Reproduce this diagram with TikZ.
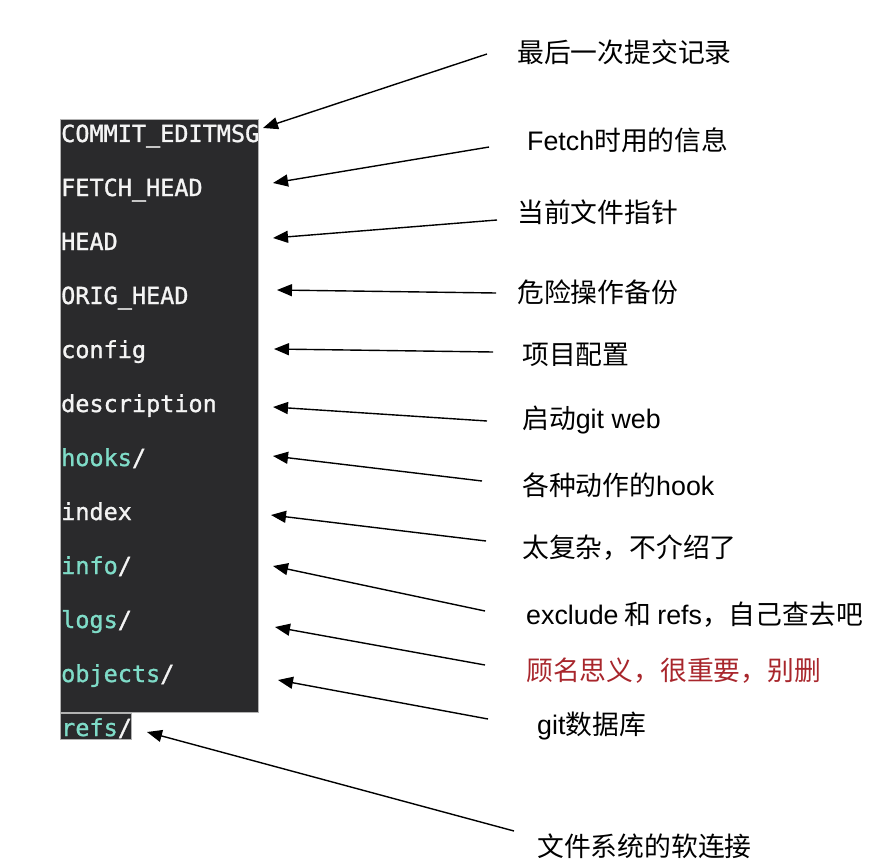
\documentclass[tikz,border=0pt]{standalone}
\usepackage{fontspec}
\usetikzlibrary{arrows.meta}
\newfontfamily\cjk{Noto Sans CJK SC}
\newfontfamily\latn{Liberation Sans}
\newfontfamily\monofont[FakeBold=1.2]{DejaVu Sans Mono}
\newcommand\lt[1]{{\latn #1}}
\definecolor{termbg}{HTML}{2A2A2C}
\definecolor{dirteal}{HTML}{7FDCC8}
\definecolor{fgwhite}{HTML}{F4F4F4}
\definecolor{warnred}{HTML}{A8262C}
\begin{document}
\begin{tikzpicture}[
    x=1pt, y=-1pt,
    fname/.style={anchor=base west, inner sep=0pt, text=fgwhite,
                  font=\monofont\fontsize{23.5}{28}\selectfont},
    note/.style={anchor=west, inner sep=0pt, text=black,
                 font=\cjk\fontsize{26.8}{30}\selectfont},
    ptr/.style={line width=1.4pt, black,
                -{Triangle[length=15pt, width=12pt]}}
]
    \useasboundingbox (0,0) rectangle (888,864);

    % terminal listing
    \fill[termbg, draw=black!30, line width=0.6pt] (60,119) rectangle (258,712);
    \fill[termbg, draw=black!30, line width=0.6pt] (60,713) rectangle (131,739);

    \node[fname] (commit) at (61,142) {COMMIT\_EDITMSG};
    \node[fname] (fetch)  at (61,196) {FETCH\_HEAD};
    \node[fname] (head)   at (61,250) {HEAD};
    \node[fname] (orig)   at (61,304) {ORIG\_HEAD};
    \node[fname] (config) at (61,358) {config};
    \node[fname] (desc)   at (61,412) {description};
    \node[fname] (hooks)  at (61,466) {\textcolor{dirteal}{hooks}/};
    \node[fname] (index)  at (61,520) {index};
    \node[fname] (info)   at (61,574) {\textcolor{dirteal}{info}/};
    \node[fname] (logs)   at (61,628) {\textcolor{dirteal}{logs}/};
    \node[fname] (objs)   at (61,682) {\textcolor{dirteal}{objects}/};
    \node[fname] (refs)   at (61,736) {\textcolor{dirteal}{refs}/};

    % explanations
    \node[note] (ncommit) at (517,52)  {最后一次提交记录};
    \node[note] (nfetch)  at (527,140) {\lt{Fetch}时用的信息};
    \node[note] (nhead)   at (517,212) {当前文件指针};
    \node[note] (norig)   at (517,292) {危险操作备份};
    \node[note] (nconfig) at (522,355) {项目配置};
    \node[note] (ndesc)   at (522,420) {启动\lt{git web}};
    \node[note] (nhooks)  at (522,485) {各种动作的\lt{hook}};
    \node[note] (nindex)  at (522,548) {太复杂，不介绍了};
    \node[note] (ninfo)   at (526,615) {\lt{exclude} 和 \lt{refs}，自己查去吧};
    \node[note, text=warnred] (nlogs) at (526,671) {顾名思义，很重要，别删};
    \node[note] (nobjs)   at (537,726) {\lt{git}数据库};
    \node[note] (nrefs)   at (537,846) {文件系统的软连接};

    % arrow tails and tips
    \coordinate (tcommit) at (487,54);  \coordinate (hcommit) at (263,128);
    \coordinate (tfetch)  at (489,147); \coordinate (hfetch)  at (273,183);
    \coordinate (thead)   at (497,220); \coordinate (hhead)   at (273,238);
    \coordinate (torig)   at (496,293); \coordinate (horig)   at (277,290);
    \coordinate (tconfig) at (493,352); \coordinate (hconfig) at (274,349);
    \coordinate (tdesc)   at (487,421); \coordinate (hdesc)   at (273,407);
    \coordinate (thooks)  at (482,481); \coordinate (hhooks)  at (273,456);
    \coordinate (tindex)  at (486,541); \coordinate (hindex)  at (271,515);
    \coordinate (tinfo)   at (485,611); \coordinate (hinfo)   at (273,566);
    \coordinate (tlogs)   at (485,665); \coordinate (hlogs)   at (275,627);
    \coordinate (tobjs)   at (488,719); \coordinate (hobjs)   at (278,680);
    \coordinate (trefs)   at (514,831); \coordinate (hrefs)   at (147,732);

    \draw[ptr] (tcommit) -- (hcommit);
    \draw[ptr] (tfetch)  -- (hfetch);
    \draw[ptr] (thead)   -- (hhead);
    \draw[ptr] (torig)   -- (horig);
    \draw[ptr] (tconfig) -- (hconfig);
    \draw[ptr] (tdesc)   -- (hdesc);
    \draw[ptr] (thooks)  -- (hhooks);
    \draw[ptr] (tindex)  -- (hindex);
    \draw[ptr] (tinfo)   -- (hinfo);
    \draw[ptr] (tlogs)   -- (hlogs);
    \draw[ptr] (tobjs)   -- (hobjs);
    \draw[ptr] (trefs)   -- (hrefs);
\end{tikzpicture}
\end{document}
